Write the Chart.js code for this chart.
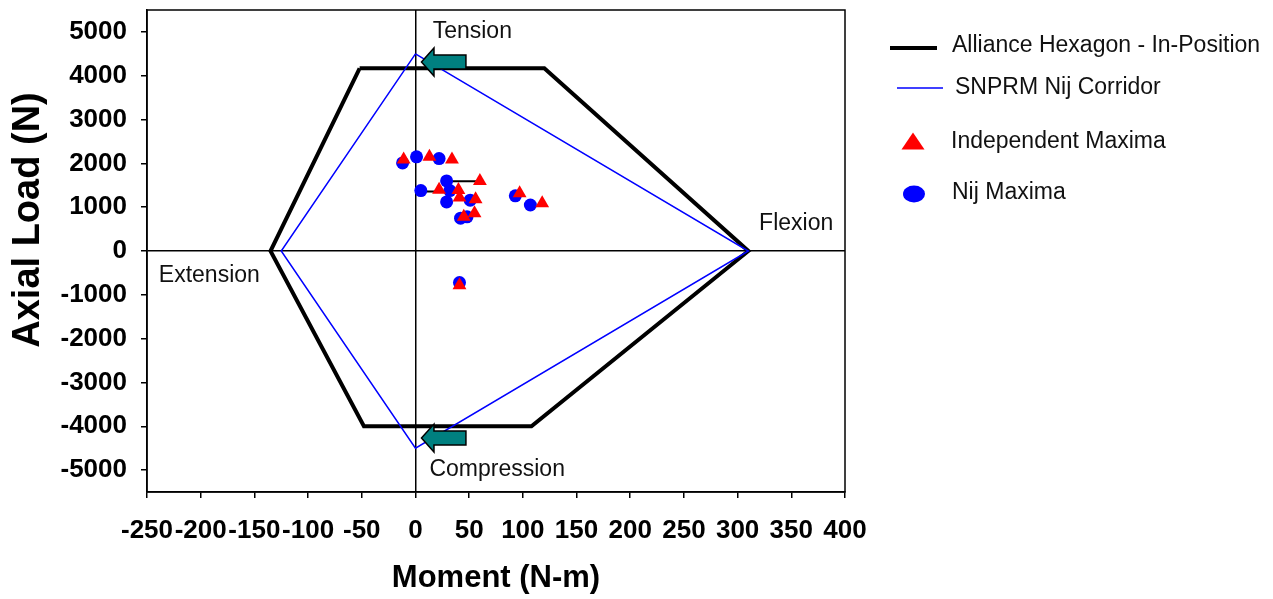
<!DOCTYPE html>
<html>
<head>
<meta charset="utf-8">
<script src="https://cdn.jsdelivr.net/npm/chart.js@4.4.1/dist/chart.umd.min.js"></script>
<style>
  body { margin: 0; background: #fff; }
</style>
</head>
<body>
<canvas id="nijChart" width="1273" height="599"></canvas>
<script>
// Alliance hexagon (in-position) corners, closed
hexX = [-52, 120, 310, 108, -48, -135, -52];
hexY = [4170, 4170, 0, -4000, -4000, 0, 4170];

// SNPRM Nij corridor, closed
corridorX = [0, 310, 0, -125, 0];
corridorY = [4500, 0, -4500, 0, 4500];

// Independent maxima (triangles)
indepX = [-11, 13, 34, 60, 22, 40, 41, 56, 97, 118, 45, 55, 41];
indepY = [2090, 2150, 2090, 1600, 1400, 1390, 1220, 1180, 1320, 1090, 780, 860, -780];

// Nij maxima (circles)
nijX = [-12, 1, 22, 29, 5, 32, 29, 51, 42, 48, 93, 107, 41];
nijY = [2010, 2150, 2110, 1600, 1380, 1380, 1120, 1160, 750, 780, 1260, 1050, -720];

// short links between paired maxima
linkA_X = [29, 60];
linkA_Y = [1590, 1590];
linkB_X = [5, 22];
linkB_Y = [1360, 1360];

xTicks = [-250, -200, -150, -100, -50, 0, 50, 100, 150, 200, 250, 300, 350, 400];
yTicks = [-5000, -4000, -3000, -2000, -1000, 0, 1000, 2000, 3000, 4000, 5000];

const FONT = '"Liberation Sans", Arial, sans-serif';

function pts(xs, ys) {
  return xs.map((x, i) => ({ x: x, y: ys[i] }));
}

// text labels placed in data units
const notes = [
  { text: 'Tension', x: 16, y: 5000 },
  { text: 'Flexion', x: 320, y: 616 },
  { text: 'Extension', x: -239, y: -571 },
  { text: 'Compression', x: 13, y: -5000 },
];
// teal arrows: tip x, tail x, center y (data units)
const arrows = [
  { tip: 5.6, tail: 47, y: 4315 },
  { tip: 5.6, tail: 47, y: -4270 },
];

const extras = {
  id: 'extras',
  afterDraw(chart) {
    const { ctx, chartArea: a, scales: { x, y } } = chart;
    ctx.save();

    // plot frame
    ctx.strokeStyle = '#000';
    ctx.lineWidth = 1.5;
    ctx.strokeRect(a.left, a.top, a.right - a.left, a.bottom - a.top);

    // arrows
    arrows.forEach(ar => {
      const tx = x.getPixelForValue(ar.tip);
      const ex = x.getPixelForValue(ar.tail);
      const cy = y.getPixelForValue(ar.y);
      const hx = tx + 12.5;
      ctx.beginPath();
      ctx.moveTo(tx, cy);
      ctx.lineTo(hx, cy - 14);
      ctx.lineTo(hx, cy - 7);
      ctx.lineTo(ex, cy - 7);
      ctx.lineTo(ex, cy + 7);
      ctx.lineTo(hx, cy + 7);
      ctx.lineTo(hx, cy + 14);
      ctx.closePath();
      ctx.fillStyle = '#008080';
      ctx.fill();
      ctx.strokeStyle = '#000';
      ctx.lineWidth = 1.5;
      ctx.stroke();
    });

    // region labels
    ctx.fillStyle = '#111';
    ctx.font = '23px ' + FONT;
    ctx.textAlign = 'left';
    ctx.textBaseline = 'middle';
    notes.forEach(n => {
      ctx.fillText(n.text, x.getPixelForValue(n.x), y.getPixelForValue(n.y));
    });

    // y axis title
    ctx.save();
    ctx.translate(39, 220);
    ctx.rotate(-Math.PI / 2);
    ctx.font = 'bold 38px ' + FONT;
    ctx.textAlign = 'center';
    ctx.textBaseline = 'alphabetic';
    ctx.fillStyle = '#000';
    ctx.fillText('Axial Load (N)', 0, 0);
    ctx.restore();

    // legend
    const ds = chart.data.datasets;
    ctx.font = '23px ' + FONT;
    ctx.textAlign = 'left';
    ctx.textBaseline = 'middle';

    ctx.strokeStyle = '#000';
    ctx.lineWidth = 4;
    ctx.beginPath(); ctx.moveTo(890, 48); ctx.lineTo(937, 48); ctx.stroke();
    ctx.fillStyle = '#111';
    ctx.fillText(ds[4].label, 952, 46);

    ctx.strokeStyle = '#0000ff';
    ctx.lineWidth = 1.5;
    ctx.beginPath(); ctx.moveTo(897, 88); ctx.lineTo(943, 88); ctx.stroke();
    ctx.fillText(ds[3].label, 955, 88);

    ctx.fillStyle = '#ff0000';
    ctx.beginPath();
    ctx.moveTo(913, 132.5); ctx.lineTo(924.5, 149.5); ctx.lineTo(901.5, 149.5);
    ctx.closePath(); ctx.fill();
    ctx.fillStyle = '#111';
    ctx.fillText(ds[0].label, 951, 142);

    ctx.fillStyle = '#0000ff';
    ctx.beginPath();
    ctx.ellipse(914, 194, 11, 8.5, 0, 0, Math.PI * 2);
    ctx.fill();
    ctx.fillStyle = '#111';
    ctx.fillText(ds[1].label, 952, 193);

    ctx.restore();
  }
};

document.addEventListener('DOMContentLoaded', function () {
  const ctx = document.getElementById('nijChart');

  new Chart(ctx, {
    type: 'scatter',
    data: {
      datasets: [
        {
          label: 'Independent Maxima',
          data: pts(indepX, indepY),
          pointStyle: 'triangle',
          pointRadius: 8,
          pointHoverRadius: 8,
          backgroundColor: '#ff0000',
          borderWidth: 0
        },
        {
          label: 'Nij Maxima',
          data: pts(nijX, nijY),
          pointStyle: 'circle',
          pointRadius: 6.5,
          pointHoverRadius: 6.5,
          backgroundColor: '#0000ff',
          borderWidth: 0
        },
        {
          label: 'links',
          data: pts(linkA_X, linkA_Y).concat([{ x: null, y: null }], pts(linkB_X, linkB_Y)),
          showLine: true,
          spanGaps: false,
          borderColor: '#000',
          borderWidth: 2,
          pointRadius: 0
        },
        {
          label: 'SNPRM Nij Corridor',
          data: pts(corridorX, corridorY),
          showLine: true,
          borderColor: '#0000ff',
          borderWidth: 1.5,
          pointRadius: 0,
          tension: 0
        },
        {
          label: 'Alliance Hexagon - In-Position',
          data: pts(hexX, hexY),
          showLine: true,
          borderColor: '#000',
          borderWidth: 4,
          borderJoinStyle: 'miter',
          pointRadius: 0,
          tension: 0
        }
      ]
    },
    options: {
      responsive: false,
      animation: false,
      layout: { padding: { top: 10, right: 428, bottom: 0, left: 0 } },
      plugins: {
        legend: { display: false },
        tooltip: { enabled: false }
      },
      scales: {
        x: {
          type: 'linear',
          min: -250,
          max: 400,
          afterBuildTicks: s => { s.ticks = xTicks.map(v => ({ value: v })); },
          afterFit: s => { s.height = 107; s.paddingLeft = 0; s.paddingRight = 0; },
          grid: {
            color: c => (c.tick && c.tick.value === 0 ? '#000' : 'rgba(0,0,0,0)'),
            lineWidth: 1.5,
            tickColor: '#000',
            tickLength: 6,
            tickWidth: 1.5
          },
          border: { display: true, color: '#000', width: 1.5 },
          ticks: {
            autoSkip: false,
            maxRotation: 0,
            padding: 17,
            color: '#000',
            font: { family: FONT, size: 26, weight: 'bold' },
            callback: v => String(v)
          },
          title: {
            display: true,
            text: 'Moment (N-m)',
            color: '#000',
            font: { family: FONT, size: 31, weight: 'bold' },
            padding: { top: 0, bottom: 2 }
          }
        },
        y: {
          type: 'linear',
          min: -5500,
          max: 5500,
          afterBuildTicks: s => { s.ticks = yTicks.map(v => ({ value: v })); },
          afterFit: s => { s.width = 147; s.paddingTop = 0; s.paddingBottom = 0; },
          grid: {
            color: c => (c.tick && c.tick.value === 0 ? '#000' : 'rgba(0,0,0,0)'),
            lineWidth: 1.5,
            tickColor: '#000',
            tickLength: 6,
            tickWidth: 1.5
          },
          border: { display: true, color: '#000', width: 1.5 },
          ticks: {
            autoSkip: false,
            padding: 14,
            color: '#000',
            font: { family: FONT, size: 26, weight: 'bold' },
            callback: v => String(v)
          }
        }
      }
    },
    plugins: [extras]
  });
});
</script>
</body>
</html>
